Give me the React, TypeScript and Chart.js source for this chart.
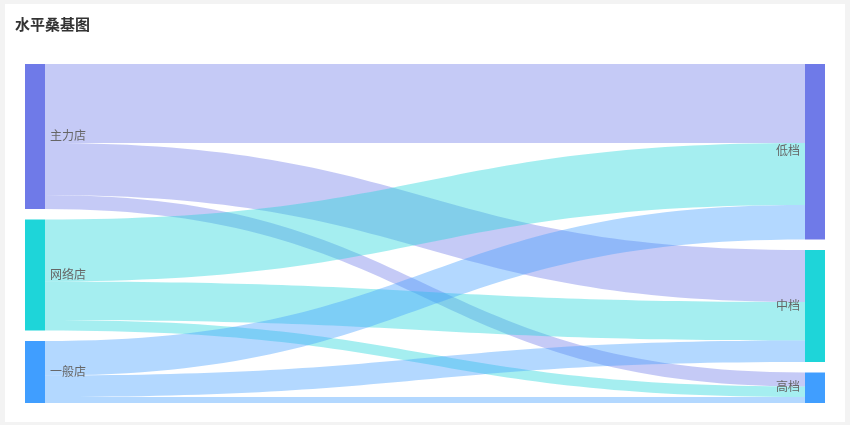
import React, { useEffect, useRef } from 'react';
import { Chart, registerables } from 'chart.js';

Chart.register(...registerables);

const TITLE = '水平桑基图';
const sourceNodes = ['主力店', '网络店', '一般店'];
const targetNodes = ['低档', '中档', '高档'];
const sourceColors = ['#6F7AE8', '#1ED5D9', '#409EFF'];
const targetColors = ['#6F7AE8', '#1ED5D9', '#409EFF'];

const linkSources = ['主力店', '主力店', '主力店', '网络店', '网络店', '网络店', '一般店', '一般店', '一般店'];
const linkTargets = ['低档', '中档', '高档', '低档', '中档', '高档', '低档', '中档', '高档'];
const linkValues = [79, 52, 14, 62, 38.5, 10.5, 34.5, 21.5, 6];

const NODE_GAP = 10.5; // in value units
const NODE_WIDTH = 20; // px
const LINK_ALPHA = 0.4;

const sumBy = (names: string[], key: string[]) =>
  names.map((n) => linkValues.reduce((s, v, i) => (key[i] === n ? s + v : s), 0));

const sourceTotals = sumBy(sourceNodes, linkSources);
const targetTotals = sumBy(targetNodes, linkTargets);
const columnMax = Math.max(
  sourceTotals.reduce((a, b) => a + b, 0) + NODE_GAP * (sourceNodes.length - 1),
  targetTotals.reduce((a, b) => a + b, 0) + NODE_GAP * (targetNodes.length - 1)
);

function hexToRgba(hex: string, a: number) {
  const h = hex.replace('#', '');
  const r = parseInt(h.slice(0, 2), 16);
  const g = parseInt(h.slice(2, 4), 16);
  const b = parseInt(h.slice(4, 6), 16);
  return `rgba(${r},${g},${b},${a})`;
}

function layoutColumn(totals: number[]) {
  let acc = 0;
  return totals.map((t) => {
    const top = acc;
    acc += t + NODE_GAP;
    return { top, bottom: top + t };
  });
}

const sankeyPlugin = {
  id: 'sankeyDraw',
  afterDatasetsDraw(chart: any) {
    const { ctx } = chart;
    const xs = chart.scales.x;
    const ys = chart.scales.y;
    const srcLayout = layoutColumn(sourceTotals);
    const tgtLayout = layoutColumn(targetTotals);
    const srcOffset = srcLayout.map((l) => l.top);
    const tgtOffset = tgtLayout.map((l) => l.top);

    const xL = xs.getPixelForValue(0);
    const xR = xs.getPixelForValue(1);
    const x0 = xL + NODE_WIDTH;
    const x1 = xR - NODE_WIDTH;

    ctx.save();
    // links
    linkValues.forEach((v, i) => {
      const si = sourceNodes.indexOf(linkSources[i]);
      const ti = targetNodes.indexOf(linkTargets[i]);
      const sTop = ys.getPixelForValue(srcOffset[si]);
      const sBot = ys.getPixelForValue(srcOffset[si] + v);
      const tTop = ys.getPixelForValue(tgtOffset[ti]);
      const tBot = ys.getPixelForValue(tgtOffset[ti] + v);
      srcOffset[si] += v;
      tgtOffset[ti] += v;
      const cx = (x0 + x1) / 2;
      ctx.beginPath();
      ctx.moveTo(x0, sTop);
      ctx.bezierCurveTo(cx, sTop, cx, tTop, x1, tTop);
      ctx.lineTo(x1, tBot);
      ctx.bezierCurveTo(cx, tBot, cx, sBot, x0, sBot);
      ctx.closePath();
      ctx.fillStyle = hexToRgba(sourceColors[si], LINK_ALPHA);
      ctx.fill();
    });

    // nodes
    srcLayout.forEach((l, i) => {
      const t = ys.getPixelForValue(l.top);
      const b = ys.getPixelForValue(l.bottom);
      ctx.fillStyle = sourceColors[i];
      ctx.fillRect(xL, t, NODE_WIDTH, b - t);
    });
    tgtLayout.forEach((l, i) => {
      const t = ys.getPixelForValue(l.top);
      const b = ys.getPixelForValue(l.bottom);
      ctx.fillStyle = targetColors[i];
      ctx.fillRect(xR - NODE_WIDTH, t, NODE_WIDTH, b - t);
    });

    // labels
    ctx.font = '12px "Noto Sans CJK SC", sans-serif';
    ctx.fillStyle = '#666666';
    ctx.textBaseline = 'middle';
    ctx.textAlign = 'left';
    srcLayout.forEach((l, i) => {
      const c = ys.getPixelForValue((l.top + l.bottom) / 2);
      ctx.fillText(sourceNodes[i], xL + NODE_WIDTH + 5, c - 1);
    });
    ctx.textAlign = 'right';
    tgtLayout.forEach((l, i) => {
      const c = ys.getPixelForValue((l.top + l.bottom) / 2);
      ctx.fillText(targetNodes[i], xR - NODE_WIDTH - 5, c - 1);
    });
    ctx.restore();
  },
};

function SankeyChart() {
  const canvasRef = useRef<HTMLCanvasElement>(null);
  useEffect(() => {
    if (!canvasRef.current) return;
    const chart = new Chart(canvasRef.current, {
      type: 'scatter',
      data: { datasets: [] },
      options: {
        animation: false,
        responsive: false,
        maintainAspectRatio: false,
        layout: { padding: { left: 20, right: 20, top: 60, bottom: 19 } },
        plugins: { legend: { display: false }, tooltip: { enabled: false }, title: { display: false } },
        scales: {
          x: { type: 'linear', min: 0, max: 1, display: false },
          y: { type: 'linear', min: 0, max: columnMax, reverse: true, display: false },
        },
      },
      plugins: [sankeyPlugin],
    } as any);
    return () => chart.destroy();
  }, []);
  return <canvas ref={canvasRef} width={840} height={418} style={{ display: 'block' }} />;
}

export default function App() {
  return (
    <div style={{ position: 'fixed', left: 0, top: 0, width: 850, height: 425, background: '#f3f3f3' }}>
      <div style={{ position: 'absolute', left: 5, top: 4, width: 840, height: 418, background: '#ffffff' }}>
        <SankeyChart />
        <div
          style={{
            position: 'absolute',
            left: 10,
            top: 12,
            lineHeight: '16px',
            fontSize: 15,
            fontWeight: 'bold',
            color: '#333',
            fontFamily: '"Noto Sans CJK SC", sans-serif',
          }}
        >
          {TITLE}
        </div>
      </div>
    </div>
  );
}
